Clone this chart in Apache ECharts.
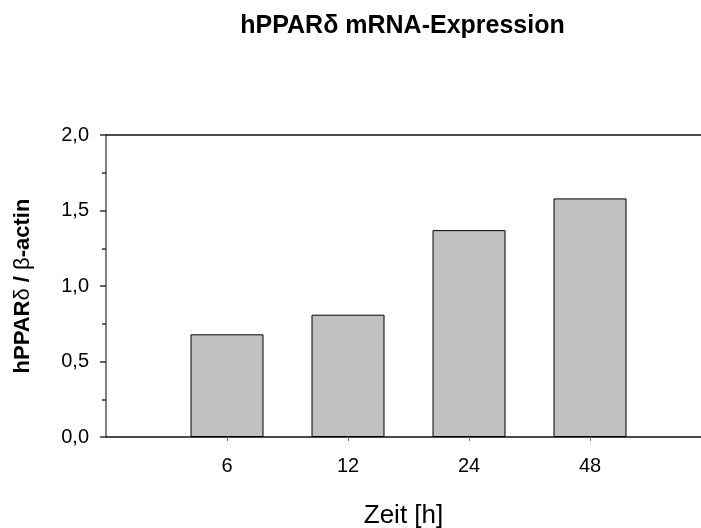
<!DOCTYPE html>
<html>
<head>
<meta charset="utf-8">
<script src="https://cdn.jsdelivr.net/npm/echarts@6/dist/echarts.min.js"></script>
<style>html,body{margin:0;padding:0;background:#fff}#c{width:701px;height:528px}</style>
</head>
<body>
<div id="c"></div>
<script>
const categories = ['6', '12', '24', '48'];
const values = [0.68, 0.81, 1.37, 1.58];
const yTicks = [0, 0.5, 1.0, 1.5, 2.0];
const titleText = 'hPPAR\u03b4 mRNA-Expression';
const xName = 'Zeit [h]';

const font = 'Liberation Sans, Arial, sans-serif';
// bar slots 1..n on a numeric band axis; extent chosen so slot spacing matches the original
const slots = categories.map((c, i) => i + 1);
const barData = values.map((v, i) => [slots[i], v]);
const xMax = 595 / 121;

const chart = echarts.init(document.getElementById('c'), null, {renderer: 'canvas'});
chart.setOption({
  animation: false,
  backgroundColor: '#fff',
  graphic: [{
    type: 'text', x: 402.5, y: 14,
    style: {text: titleText, font: 'bold 25px ' + font, fill: '#000', textAlign: 'center', textVerticalAlign: 'top'}
  }],
  grid: {left: 106, top: 135, right: 0, bottom: 91, containLabel: false, outerBoundsMode: 'none'},
  xAxis: [{
    type: 'value', min: 0, max: xMax,
    axisLine: {onZero: false, lineStyle: {color: '#111', width: 1.5}},
    axisTick: {show: true, length: 4, lineStyle: {color: '#777', width: 1}, customValues: slots},
    axisLabel: {fontSize: 20, fontFamily: font, color: '#000', margin: 19, customValues: slots,
      formatter: v => categories[Math.round(v) - 1] || ''},
    splitLine: {show: false},
    name: xName, nameLocation: 'middle', nameGap: 66,
    nameTextStyle: {fontSize: 26, fontFamily: font, color: '#000'}
  }, {
    type: 'value', min: 0, max: xMax, position: 'top',
    axisLine: {show: true, onZero: false, lineStyle: {color: '#111', width: 1.5}},
    axisTick: {show: false}, axisLabel: {show: false}, splitLine: {show: false}
  }],
  yAxis: {
    type: 'value', min: yTicks[0], max: yTicks[yTicks.length - 1], interval: 0.5,
    axisLine: {show: true, onZero: false, lineStyle: {color: '#808080', width: 2}},
    axisTick: {show: true, length: 6, lineStyle: {color: '#333', width: 1.5}},
    minorTick: {show: true, splitNumber: 2, length: 4, lineStyle: {color: '#333', width: 1.5}},
    axisLabel: {fontSize: 20, fontFamily: font, color: '#000', margin: 17,
      formatter: v => v.toFixed(1).replace('.', ',')},
    splitLine: {show: false},
    name: '{b|hPPAR}{g|\u03b4}{b| / }{g|\u03b2}{b|-actin}', nameLocation: 'middle', nameRotate: 90, nameGap: 72,
    nameTextStyle: {fontSize: 22, fontFamily: font, color: '#000',
      rich: {b: {fontSize: 22, fontWeight: 'bold', fontFamily: font}, g: {fontSize: 22, fontWeight: 'normal', fontFamily: font}}}
  },
  series: [{
    type: 'bar', data: barData, barWidth: 73,
    itemStyle: {color: '#c0c0c0', borderColor: '#000', borderWidth: 1}
  }]
});
</script>
</body>
</html>
